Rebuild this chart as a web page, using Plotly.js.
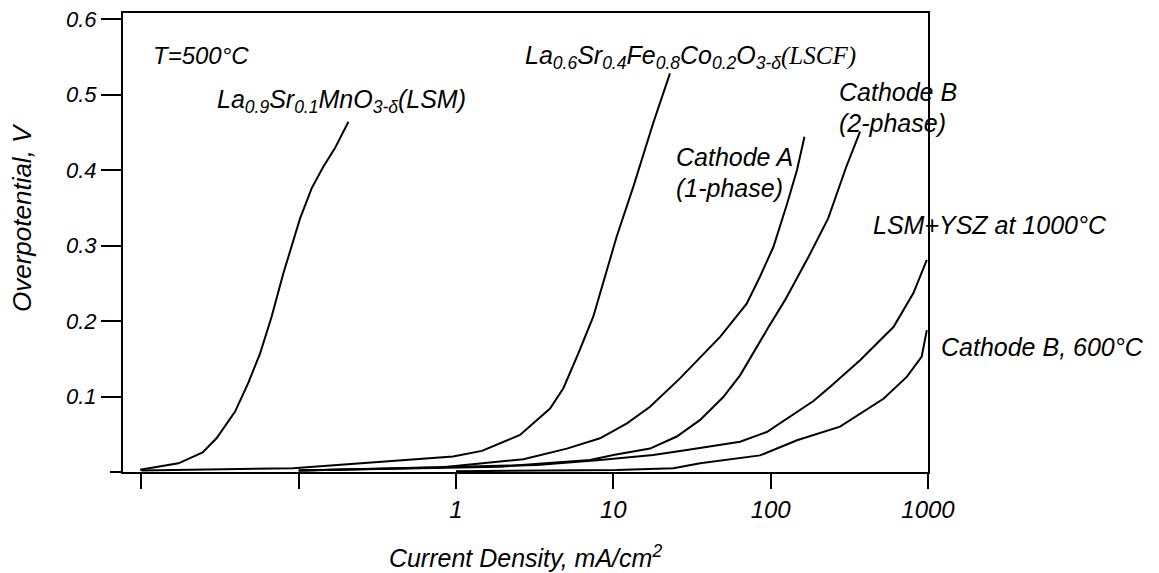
<!DOCTYPE html>
<html>
<head>
<meta charset="utf-8">
<script src="https://cdn.plot.ly/plotly-3.0.1.min.js"></script>
<style>html,body{margin:0;padding:0;background:#fff;}#chart{width:1159px;height:573px;}</style>
</head>
<body>
<div id="chart"></div>
<script>
// Current density (mA/cm2) and overpotential (V) for each cathode
var lsmX = [0.0098, 0.0172, 0.0245, 0.0301, 0.0394, 0.0478, 0.0568, 0.0673, 0.0798, 0.0902, 0.102, 0.121, 0.143, 0.170, 0.207];
var lsmY = [0.003, 0.0115, 0.026, 0.045, 0.080, 0.118, 0.157, 0.206, 0.263, 0.298, 0.336, 0.376, 0.404, 0.429, 0.464];

var lscfX = [0.01, 0.092, 0.957, 1.46, 2.55, 3.96, 4.81, 5.99, 7.46, 8.43, 10.5, 13.4, 17.9, 22.9];
var lscfY = [0.002, 0.005, 0.0205, 0.028, 0.049, 0.084, 0.111, 0.157, 0.206, 0.245, 0.312, 0.378, 0.462, 0.528];

var cathodeAX = [0.1, 0.79, 2.68, 3.42, 5.06, 8.23, 12.2, 17.1, 26.5, 47.7, 70.4, 85.6, 104, 127, 147, 164];
var cathodeAY = [0.002, 0.006, 0.017, 0.0225, 0.031, 0.0446, 0.0645, 0.0865, 0.124, 0.179, 0.223, 0.259, 0.298, 0.355, 0.400, 0.444];

var cathodeBX = [0.1, 1.9, 7.11, 10.0, 17.1, 25.3, 35.6, 49.8, 63.9, 79.5, 96.3, 123.6, 173, 232, 302, 370];
var cathodeBY = [0.002, 0.007, 0.016, 0.0225, 0.031, 0.047, 0.069, 0.099, 0.128, 0.162, 0.191, 0.228, 0.284, 0.336, 0.404, 0.451];

var lsmYszX = [0.1, 3.26, 8.23, 17.9, 29.3, 63.9, 94.4, 133, 187, 239, 370, 603, 808, 983];
var lsmYszY = [0.002, 0.0093, 0.016, 0.0225, 0.029, 0.040, 0.053, 0.073, 0.094, 0.113, 0.148, 0.192, 0.237, 0.281];

var cathodeB600X = [1.0, 10.5, 24.1, 35.6, 85.6, 147, 276, 521, 733, 912, 983];
var cathodeB600Y = [0.001, 0.0026, 0.005, 0.0115, 0.022, 0.042, 0.060, 0.097, 0.126, 0.153, 0.188];

var xTickVals = [0.01, 0.1, 1, 10, 100, 1000];
var xTickText = ['', '', '1', '10', '100', '1000'];
var yTickVals = [0.1, 0.2, 0.3, 0.4, 0.5, 0.6];
var yTickText = ['0.1', '0.2', '0.3', '0.4', '0.5', '0.6'];

var series = [
  {name: 'LSM', x: lsmX, y: lsmY},
  {name: 'LSCF', x: lscfX, y: lscfY},
  {name: 'Cathode A', x: cathodeAX, y: cathodeAY},
  {name: 'Cathode B', x: cathodeBX, y: cathodeBY},
  {name: 'LSM+YSZ 1000°C', x: lsmYszX, y: lsmYszY},
  {name: 'Cathode B 600°C', x: cathodeB600X, y: cathodeB600Y}
];

var traces = series.map(function (s) {
  return {x: s.x, y: s.y, name: s.name, type: 'scatter', mode: 'lines',
          line: {color: '#000', width: 2}, hoverinfo: 'x+y+name'};
});

var FONT = 'Liberation Sans, Arial, Helvetica, sans-serif';
var L = 123, R = 928, T = 13, B = 472;
function px(x) { return (x - L) / (R - L); }
function py(y) { return (B - y) / (B - T); }
function label(text, x, y, size) {
  return {text: text, xref: 'paper', yref: 'paper', x: px(x), y: py(y),
          xanchor: 'left', yanchor: 'middle', showarrow: false,
          font: {family: FONT, size: size || 25, color: '#000', style: 'italic'}};
}

var annotations = [
  label('T=500°C', 151, 55, 24),
  label('La<sub>0.9</sub>Sr<sub>0.1</sub>MnO<sub>3-δ</sub>(LSM)', 215, 101),
  label('La<sub>0.6</sub>Sr<sub>0.4</sub>Fe<sub>0.8</sub>Co<sub>0.2</sub>O<sub>3-δ</sub><span style="font-family:Liberation Serif, Times New Roman, serif">(LSCF)</span>', 523, 57),
  label('Cathode A', 674, 157),
  label('(1-phase)', 674, 188),
  label('Cathode B', 837, 92),
  label('(2-phase)', 837, 123),
  label('LSM+YSZ at 1000°C', 871, 225),
  label('Cathode B, 600°C', 939, 347),
  // y-axis title, placed as in the reference (shifted above the plot centre)
  {text: 'Overpotential, V', xref: 'paper', yref: 'paper', x: px(22), y: py(217),
   xanchor: 'center', yanchor: 'middle', textangle: -90, showarrow: false,
   font: {family: FONT, size: 26, color: '#000', style: 'italic'}}
];

var layout = {
  width: 1159, height: 573,
  margin: {l: L, r: 1159 - R, t: T, b: 573 - B},
  paper_bgcolor: '#fff', plot_bgcolor: '#fff',
  showlegend: false,
  xaxis: {
    type: 'log', range: [Math.log10(0.01) - 0.117, 3.0],
    tickmode: 'array', tickvals: xTickVals, ticktext: xTickText,
    ticks: 'outside', ticklen: 15, tickwidth: 2, tickcolor: '#000',
    showline: true, linecolor: '#000', linewidth: 2, mirror: true,
    showgrid: false, zeroline: false,
    tickfont: {family: FONT, size: 24, color: '#000', style: 'italic'},
    title: {text: 'Current Density, mA/cm<sup>2</sup>', standoff: 28,
            font: {family: FONT, size: 25, color: '#000', style: 'italic'}}
  },
  yaxis: {
    range: [0, 0.608],
    tickmode: 'array', tickvals: yTickVals, ticktext: yTickText,
    ticks: 'outside', ticklen: 20, tickwidth: 2, tickcolor: '#000',
    showline: true, linecolor: '#000', linewidth: 2, mirror: true,
    showgrid: false, zeroline: false,
    tickfont: {family: FONT, size: 22, color: '#000', style: 'italic'}
  },
  shapes: [
    {type: 'line', xref: 'paper', yref: 'paper', x0: px(110), x1: 0, y0: 0, y1: 0,
     line: {color: '#000', width: 2}}
  ],
  annotations: annotations
};

Plotly.newPlot('chart', traces, layout, {displayModeBar: false, staticPlot: true});
</script>
</body>
</html>
